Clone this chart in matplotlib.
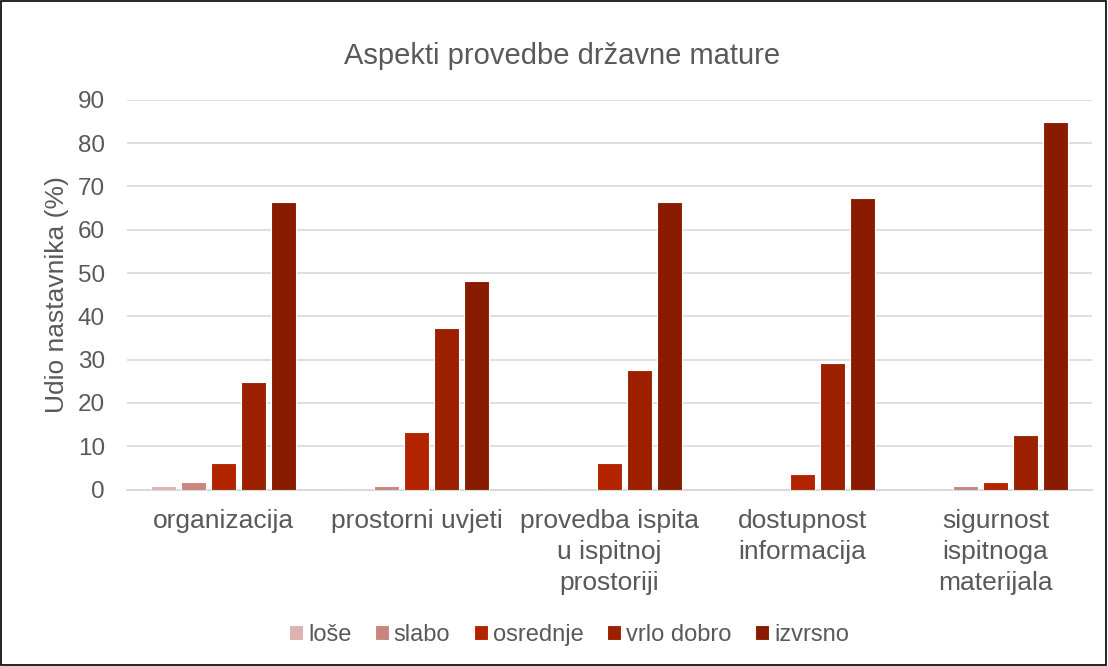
import numpy as np
import matplotlib
matplotlib.use("Agg")
import matplotlib.pyplot as plt

plt.rcParams['font.family'] = ['Liberation Sans', 'DejaVu Sans']

categories = ['organizacija', 'prostorni uvjeti', 'provedba ispita\nu ispitnoj\nprostoriji',
              'dostupnost\ninformacija', 'sigurnost\nispitnoga\nmaterijala']
series = ['loše', 'slabo', 'osrednje', 'vrlo dobro', 'izvrsno']
lose = [0.9, 0, 0, 0, 0]
slabo = [1.7, 0.8, 0, 0, 0.8]
osrednje = [6.2, 13.4, 6.2, 3.6, 1.8]
vrlo_dobro = [24.8, 37.4, 27.5, 29.3, 12.6]
izvrsno = [66.4, 48.2, 66.4, 67.3, 84.9]
colors = ['#dcb3b1', '#c8867f', '#b22400', '#9c1f00', '#891b00']

values = [lose, slabo, osrednje, vrlo_dobro, izvrsno]
grey = '#595959'

fig = plt.figure(figsize=(11.08, 6.66), dpi=100)
ax = fig.add_axes([0.1146, 0.265, 0.871, 0.585])

x = np.arange(len(categories))
pitch = 0.155
width = 0.13
for i, (name, vals, c) in enumerate(zip(series, values, colors)):
    ax.bar(x + (i - 2) * pitch, vals, width, color=c, label=name,
           edgecolor='white', linewidth=0.8, zorder=3)

ax.set_xlim(-0.5, len(categories) - 0.5)
ax.set_ylim(0, 90)
ax.set_yticks(range(0, 91, 10))
ax.grid(axis='y', color='#d9d9d9', linewidth=1.2, zorder=0)
for s in ['top', 'right', 'left']:
    ax.spines[s].set_visible(False)
ax.spines['bottom'].set_color('#d9d9d9')
ax.spines['bottom'].set_linewidth(1.5)
ax.set_xticks(x)
ax.set_xticklabels(categories, fontsize=19, color=grey, linespacing=1.38)
ax.tick_params(axis='y', labelsize=17.5, labelcolor=grey, length=0, pad=16)
ax.tick_params(axis='x', length=0, pad=14)
ax.set_ylabel('Udio nastavnika (%)', fontsize=19, color=grey, labelpad=6)
ax.set_title('Aspekti provedbe državne mature', fontsize=21, color=grey, pad=26, x=0.451)

ax.legend(loc='center', bbox_to_anchor=(0.458, -0.374), ncol=5, frameon=False,
          fontsize=17, labelcolor=grey, handlelength=0.6, handleheight=0.6,
          handletextpad=0.2, columnspacing=1.0, borderaxespad=0)

fig.patches.append(plt.Rectangle((0.001, 0.001), 0.997, 0.997, transform=fig.transFigure,
                                 fill=False, edgecolor='black', linewidth=1.2))

fig.savefig('out.png', dpi=100)
